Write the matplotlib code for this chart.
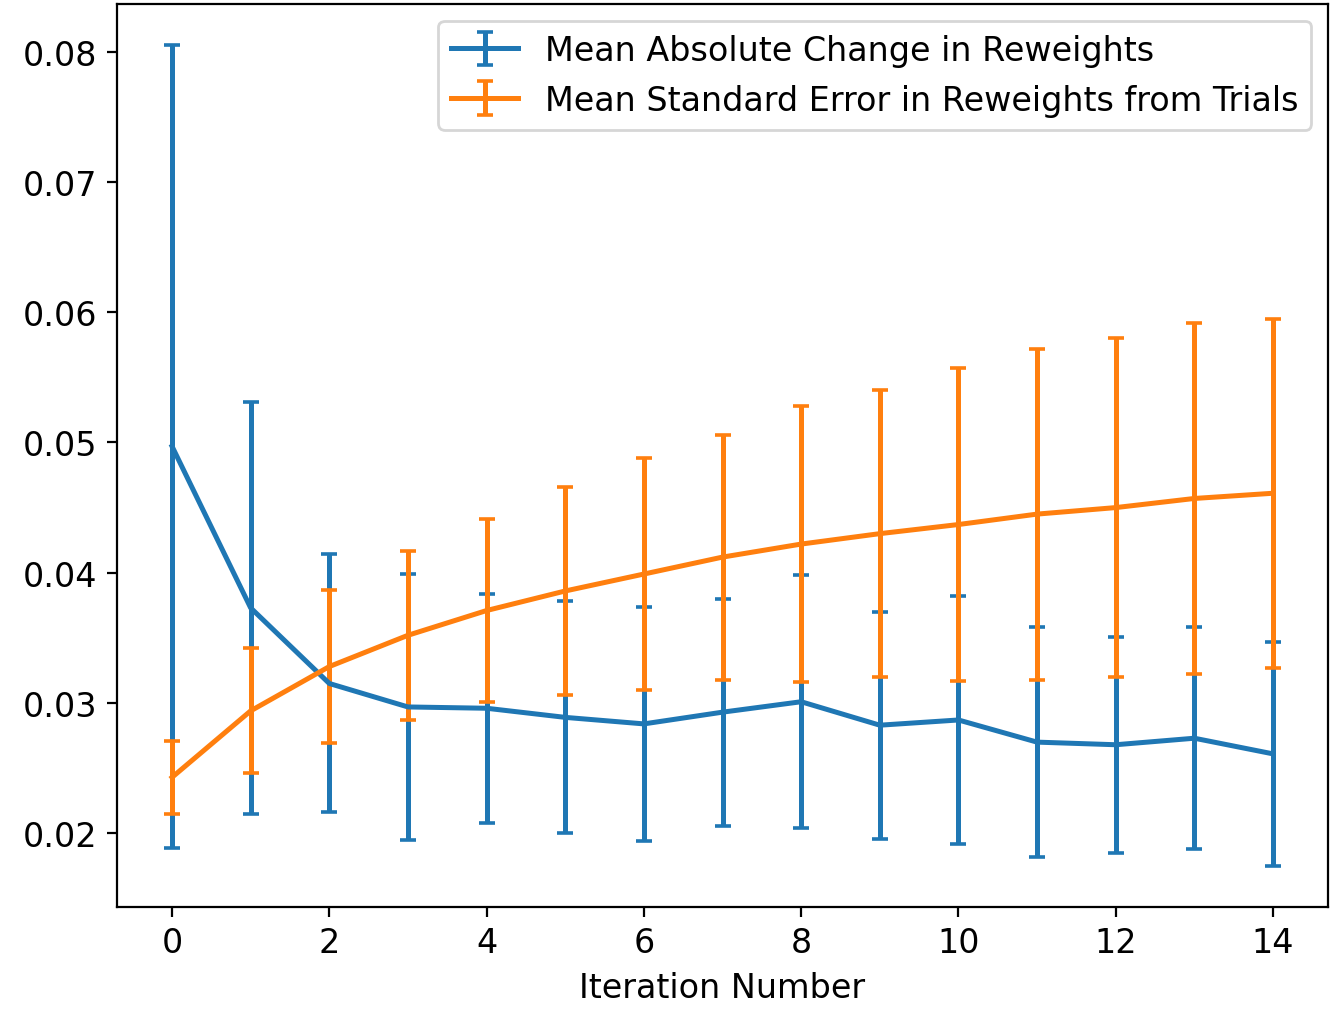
import matplotlib
matplotlib.use('Agg')
import matplotlib.pyplot as plt
import numpy as np

iterations = list(range(15))

abs_change_mean = [0.0497, 0.0373, 0.0315, 0.0297, 0.0296, 0.0289, 0.0284, 0.0293,
                   0.0301, 0.0283, 0.0287, 0.0270, 0.0268, 0.0273, 0.0261]
abs_change_err = [0.0308, 0.0158, 0.0099, 0.0102, 0.0088, 0.0089, 0.0090, 0.0087,
                  0.0097, 0.0087, 0.0095, 0.0088, 0.0083, 0.0085, 0.0086]

std_err_mean = [0.0243, 0.0294, 0.0328, 0.0352, 0.0371, 0.0386, 0.0399, 0.0412,
                0.0422, 0.0430, 0.0437, 0.0445, 0.0450, 0.0457, 0.0461]
std_err_err = [0.0028, 0.0048, 0.0059, 0.0065, 0.0070, 0.0080, 0.0089, 0.0094,
               0.0106, 0.0110, 0.0120, 0.0127, 0.0130, 0.0135, 0.0134]


def plot_reweights(output_file='out.png'):
    plt.rcParams['font.size'] = 12
    fig = plt.figure(figsize=(6.685, 5.06), dpi=200)
    ax = fig.add_axes([0.0875, 0.1028, 0.9058, 0.8923])

    ax.errorbar(iterations, abs_change_mean, yerr=abs_change_err, capsize=3,
                lw=1.8, elinewidth=1.8, capthick=1.3,
                label='Mean Absolute Change in Reweights')
    ax.errorbar(iterations, std_err_mean, yerr=std_err_err, capsize=3,
                lw=1.8, elinewidth=1.8, capthick=1.3,
                label='Mean Standard Error in Reweights from Trials')

    ax.set_xticks(np.arange(0, 15, 2))
    ax.set_xlabel('Iteration Number')
    ax.legend(loc='upper right')

    fig.savefig(output_file, dpi=200)
    plt.close(fig)


if __name__ == '__main__':
    plot_reweights()
